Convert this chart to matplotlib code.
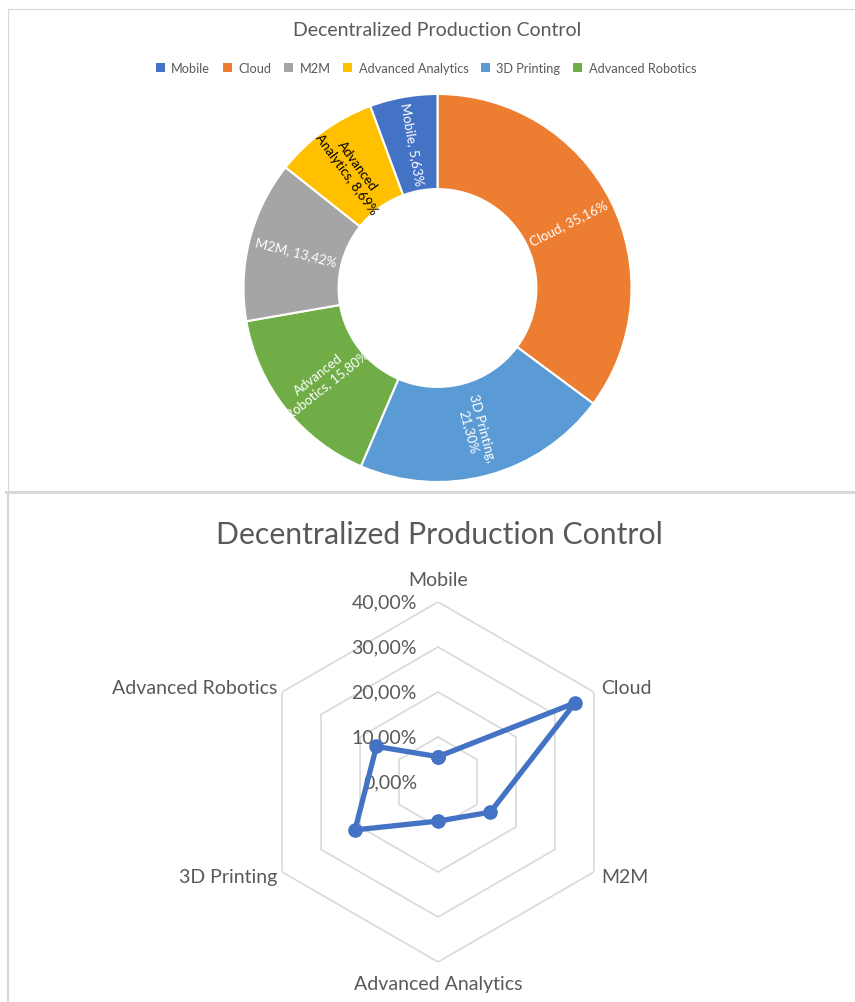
import numpy as np
import matplotlib
matplotlib.use('Agg')
import matplotlib.pyplot as plt
from matplotlib.patches import Patch
from matplotlib.lines import Line2D
from matplotlib import transforms

plt.rcParams['font.family'] = ['Lato', 'DejaVu Sans']

# data
categories = ['Mobile', 'Cloud', 'M2M', 'Advanced Analytics', '3D Printing', 'Advanced Robotics']
shares = [5.63, 35.16, 13.42, 8.69, 21.30, 15.80]  # in %
colors = ['#4472C4', '#ED7D31', '#A5A5A5', '#FFC000', '#5B9BD5', '#70AD47']
# order of the slices in the donut, clockwise from 12 o'clock
ring_order = ['Cloud', '3D Printing', 'Advanced Robotics', 'M2M', 'Advanced Analytics', 'Mobile']
ring_names = {'Advanced Analytics': 'Advanced\nAnalytics', '3D Printing': '3D Printing,\n',
              'Advanced Robotics': 'Advanced\nRobotics'}
r_ticks = [0, 10, 20, 30, 40]

TXT = '#595959'
GRID = '#D9D9D9'
W, H = 855, 1003

fig = plt.figure(figsize=(W / 100, H / 100), dpi=100)


def px(x0, y0, w, h):
    # pixel box (top-left origin) -> figure fraction
    return [x0 / W, 1 - (y0 + h) / H, w / W, h / H]


# ---------- donut ----------
ax1 = fig.add_axes(px(243.5, 95, 388, 388))
idx = [categories.index(c) for c in ring_order]
vals = [shares[i] for i in idx]
cols = [colors[i] for i in idx]
wedges, _ = ax1.pie(vals, colors=cols, startangle=90, counterclock=False, radius=1,
                    wedgeprops=dict(width=0.49, edgecolor='white', linewidth=1.5))
ax1.set_xlim(-1, 1)
ax1.set_ylim(-1, 1)

for w, name, v in zip(wedges, ring_order, vals):
    mid = (w.theta1 + w.theta2) / 2
    rad = np.deg2rad(mid)
    r = 0.755
    rot = mid
    if rot > 90:
        rot -= 180
    if rot < -90:
        rot += 180
    pct = f'{v:.2f}'.replace('.', ',') + '%'
    base = ring_names.get(name, name)
    if base.endswith('\n'):
        lab = base + pct
    else:
        lab = base + ', ' + pct
    tc = 'black' if name == 'Advanced Analytics' else 'white'
    ax1.text(r * np.cos(rad), r * np.sin(rad), lab, rotation=rot, rotation_mode='anchor',
             ha='center', va='center', ma='center', fontsize=9.5, color=tc, linespacing=1.15)

fig.text(437 / W, 1 - 31 / H, 'Decentralized Production Control', ha='center', va='center',
         fontsize=14, color=TXT)
handles = [Patch(facecolor=c, edgecolor='none') for c in colors]
fig.legend(handles, categories, loc='center', bbox_to_anchor=(426 / W, 1 - 69 / H), ncol=6,
           frameon=False, fontsize=9.2, handlelength=0.7, handleheight=0.7, handletextpad=0.5,
           columnspacing=1.0, labelcolor=TXT)

# ---------- radar ----------
ax2 = fig.add_axes(px(258, 603, 360, 360), projection='polar')
ax2.set_theta_offset(np.pi / 2)
ax2.set_theta_direction(-1)
ax2.set_ylim(0, 40)
ax2.grid(False)
ax2.spines['polar'].set_visible(False)
ax2.set_xticks([])
ax2.set_yticks([])
ax2.patch.set_visible(False)

theta = np.arange(len(categories)) * 2 * np.pi / len(categories)
theta_c = np.append(theta, theta[0])
for v in r_ticks[1:]:
    ax2.plot(theta_c, [v] * len(theta_c), color=GRID, lw=1.2, zorder=1)

for v in r_ticks:
    tr = transforms.offset_copy(ax2.transData, fig=fig, x=-21, y=0, units='dots')
    ax2.text(0, v, f'{v},00%', transform=tr, ha='right', va='center', fontsize=14, color=TXT, zorder=2)

sh_c = shares + shares[:1]
ax2.plot(theta_c, sh_c, color='#4472C4', lw=3.8, marker='o', ms=9.5, zorder=3, clip_on=False)

# category labels: (dx, dy, ha) offsets in pixels from the outer vertex
lab_pos = [(0, 22, 'center'), (7, 4, 'left'), (7, -5, 'left'),
           (0, -22, 'center'), (-5, -5, 'right'), (-5, 4, 'right')]
for t, name, (dx, dy, ha) in zip(theta, categories, lab_pos):
    tr = transforms.offset_copy(ax2.transData, fig=fig, x=dx, y=dy, units='dots')
    ax2.text(t, 40, name, transform=tr, ha=ha, va='center', fontsize=14, color=TXT, clip_on=False)

fig.text(439 / W, 1 - 535 / H, 'Decentralized Production Control', ha='center', va='center',
         fontsize=21.8, color=TXT)

# chart area borders
def hline(y, x0, x1, lw):
    fig.add_artist(Line2D([x0 / W, x1 / W], [1 - y / H, 1 - y / H], color=GRID, lw=lw))


def vline(x, y0, y1, lw):
    fig.add_artist(Line2D([x / W, x / W], [1 - y0 / H, 1 - y1 / H], color=GRID, lw=lw))


hline(9.5, 8, W, 0.8)
vline(8, 9.5, 492, 0.8)
hline(493, 6, W, 2.2)
vline(7.5, 493, H, 1.5)

fig.savefig('out.png', dpi=100)
